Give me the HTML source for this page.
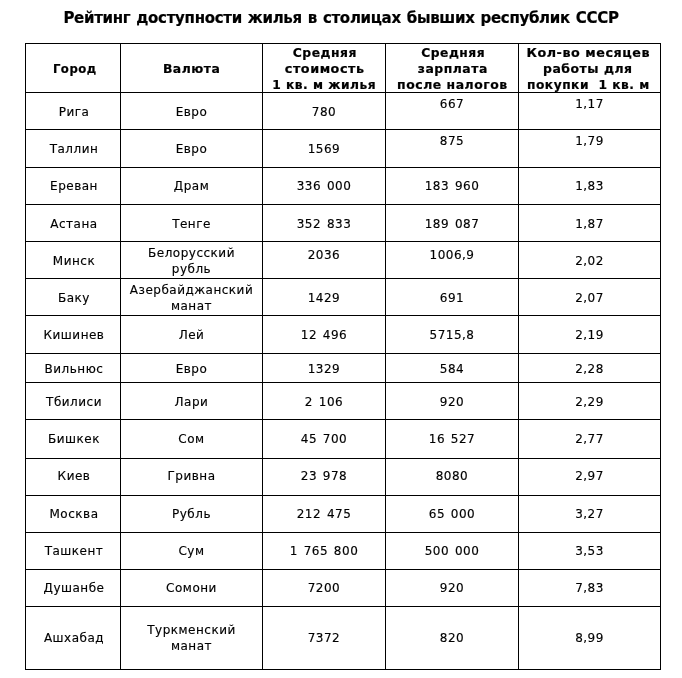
<!DOCTYPE html>
<html lang="ru"><head><meta charset="utf-8"><title>Рейтинг доступности жилья</title>
<style>
html,body{margin:0;padding:0;background:#fff;}
body{width:682px;height:678px;position:relative;overflow:hidden;font-family:"DejaVu Sans","Liberation Sans",sans-serif;color:#000;}
.t{position:absolute;left:0;top:9px;width:682px;text-align:center;font-weight:bold;font-size:15px;line-height:18px;white-space:pre;letter-spacing:-0.3px;word-spacing:1px;-webkit-text-stroke:0.2px #000;}
.h{position:absolute;height:1px;background:#000;}
.v{position:absolute;width:1px;background:#000;}
.c{position:absolute;display:flex;align-items:center;justify-content:center;text-align:center;font-size:12px;line-height:16px;white-space:nowrap;letter-spacing:0.5px;word-spacing:1.5px;padding-top:2px;box-sizing:border-box;-webkit-text-stroke:0.15px #000;}
.b{font-weight:bold;-webkit-text-stroke:0.2px #000;word-spacing:0;}
.hl{display:block;}
</style></head><body>
<div class="t">Рейтинг доступности жилья в столицах бывших республик СССР</div>

<div class="h" style="left:25px;top:43px;width:636px"></div>
<div class="h" style="left:25px;top:92px;width:636px"></div>
<div class="h" style="left:25px;top:129px;width:636px"></div>
<div class="h" style="left:25px;top:167px;width:636px"></div>
<div class="h" style="left:25px;top:204px;width:636px"></div>
<div class="h" style="left:25px;top:241px;width:636px"></div>
<div class="h" style="left:25px;top:278px;width:636px"></div>
<div class="h" style="left:25px;top:315px;width:636px"></div>
<div class="h" style="left:25px;top:353px;width:636px"></div>
<div class="h" style="left:25px;top:382px;width:636px"></div>
<div class="h" style="left:25px;top:419px;width:636px"></div>
<div class="h" style="left:25px;top:458px;width:636px"></div>
<div class="h" style="left:25px;top:495px;width:636px"></div>
<div class="h" style="left:25px;top:532px;width:636px"></div>
<div class="h" style="left:25px;top:569px;width:636px"></div>
<div class="h" style="left:25px;top:606px;width:636px"></div>
<div class="h" style="left:25px;top:669px;width:636px"></div>
<div class="v" style="left:25px;top:43px;height:627px"></div>
<div class="v" style="left:120px;top:43px;height:627px"></div>
<div class="v" style="left:262px;top:43px;height:627px"></div>
<div class="v" style="left:385px;top:43px;height:627px"></div>
<div class="v" style="left:518px;top:43px;height:627px"></div>
<div class="v" style="left:660px;top:43px;height:627px"></div>
<div class="c b" style="left:26px;top:44px;width:94px;height:48px;padding-left:2px"><div><span class="hl" id="h0_0" style="transform:translateX(0.35px) scaleX(0.9750)">Город</span></div></div>
<div class="c b" style="left:121px;top:44px;width:141px;height:48px"><div><span class="hl" id="h1_0" style="transform:translateX(-0.23px) scaleX(1.0315)">Валюта</span></div></div>
<div class="c b" style="left:263px;top:44px;width:122px;height:48px"><div><span class="hl" id="h2_0" style="transform:translateX(0.91px) scaleX(1.0295)">Средняя</span><span class="hl" id="h2_1" style="transform:translateX(0.73px) scaleX(1.0630)">стоимость</span><span class="hl" id="h2_2" style="transform:translateX(0.25px) scaleX(1.0210)">1 кв. м жилья</span></div></div>
<div class="c b" style="left:386px;top:44px;width:132px;height:48px"><div><span class="hl" id="h3_0" style="transform:translateX(0.81px) scaleX(1.0230)">Средняя</span><span class="hl" id="h3_1" style="transform:translateX(0.32px) scaleX(1.0328)">зарплата</span><span class="hl" id="h3_2" style="transform:translateX(-0.00px) scaleX(1.0358)">после налогов</span></div></div>
<div class="c b" style="left:519px;top:44px;width:141px;height:48px"><div><span class="hl" id="h4_0" style="transform:translateX(-1.00px) scaleX(1.0626)">Кол-во месяцев</span><span class="hl" id="h4_1" style="transform:translateX(-1.45px) scaleX(1.0365)">работы для</span><span class="hl" id="h4_2" style="transform:translateX(-0.90px) scaleX(1.0185)">покупки&nbsp; 1 кв. м</span></div></div>
<div class="c" style="left:26px;top:93px;width:94px;height:36px;padding-left:2px"><span>Рига</span></div>
<div class="c" style="left:121px;top:93px;width:141px;height:36px"><span>Евро</span></div>
<div class="c" style="left:263px;top:93px;width:122px;height:36px"><span>780</span></div>
<div class="c" style="left:386px;top:93px;width:132px;height:36px"><span style="position:relative;top:-8px">667</span></div>
<div class="c" style="left:519px;top:93px;width:141px;height:36px"><span style="position:relative;top:-8px">1,17</span></div>
<div class="c" style="left:26px;top:130px;width:94px;height:37px;padding-left:2px"><span style="position:relative;top:-1px">Таллин</span></div>
<div class="c" style="left:121px;top:130px;width:141px;height:37px"><span style="position:relative;top:-1px">Евро</span></div>
<div class="c" style="left:263px;top:130px;width:122px;height:37px"><span style="position:relative;top:-1px">1569</span></div>
<div class="c" style="left:386px;top:130px;width:132px;height:37px"><span style="position:relative;top:-9px">875</span></div>
<div class="c" style="left:519px;top:130px;width:141px;height:37px"><span style="position:relative;top:-9px">1,79</span></div>
<div class="c" style="left:26px;top:168px;width:94px;height:36px;padding-left:2px"><span style="position:relative;top:-1px">Ереван</span></div>
<div class="c" style="left:121px;top:168px;width:141px;height:36px"><span style="position:relative;top:-1px">Драм</span></div>
<div class="c" style="left:263px;top:168px;width:122px;height:36px"><span style="position:relative;top:-1px">336 000</span></div>
<div class="c" style="left:386px;top:168px;width:132px;height:36px"><span style="position:relative;top:-1px">183 960</span></div>
<div class="c" style="left:519px;top:168px;width:141px;height:36px"><span style="position:relative;top:-1px">1,83</span></div>
<div class="c" style="left:26px;top:205px;width:94px;height:36px;padding-left:2px"><span>Астана</span></div>
<div class="c" style="left:121px;top:205px;width:141px;height:36px"><span>Тенге</span></div>
<div class="c" style="left:263px;top:205px;width:122px;height:36px"><span>352 833</span></div>
<div class="c" style="left:386px;top:205px;width:132px;height:36px"><span>189 087</span></div>
<div class="c" style="left:519px;top:205px;width:141px;height:36px"><span>1,87</span></div>
<div class="c" style="left:26px;top:242px;width:94px;height:36px;padding-left:2px"><span>Минск</span></div>
<div class="c" style="left:121px;top:242px;width:141px;height:36px"><span>Белорусский<br>рубль</span></div>
<div class="c" style="left:263px;top:242px;width:122px;height:36px"><span style="position:relative;top:-6px">2036</span></div>
<div class="c" style="left:386px;top:242px;width:132px;height:36px"><span style="position:relative;top:-6px">1006,9</span></div>
<div class="c" style="left:519px;top:242px;width:141px;height:36px"><span>2,02</span></div>
<div class="c" style="left:26px;top:279px;width:94px;height:36px;padding-left:2px"><span>Баку</span></div>
<div class="c" style="left:121px;top:279px;width:141px;height:36px"><span>Азербайджанский<br>манат</span></div>
<div class="c" style="left:263px;top:279px;width:122px;height:36px"><span>1429</span></div>
<div class="c" style="left:386px;top:279px;width:132px;height:36px"><span>691</span></div>
<div class="c" style="left:519px;top:279px;width:141px;height:36px"><span>2,07</span></div>
<div class="c" style="left:26px;top:316px;width:94px;height:37px;padding-left:2px"><span style="position:relative;top:-1px">Кишинев</span></div>
<div class="c" style="left:121px;top:316px;width:141px;height:37px"><span style="position:relative;top:-1px">Лей</span></div>
<div class="c" style="left:263px;top:316px;width:122px;height:37px"><span style="position:relative;top:-1px">12 496</span></div>
<div class="c" style="left:386px;top:316px;width:132px;height:37px"><span style="position:relative;top:-1px">5715,8</span></div>
<div class="c" style="left:519px;top:316px;width:141px;height:37px"><span style="position:relative;top:-1px">2,19</span></div>
<div class="c" style="left:26px;top:354px;width:94px;height:28px;padding-left:2px"><span>Вильнюс</span></div>
<div class="c" style="left:121px;top:354px;width:141px;height:28px"><span>Евро</span></div>
<div class="c" style="left:263px;top:354px;width:122px;height:28px"><span>1329</span></div>
<div class="c" style="left:386px;top:354px;width:132px;height:28px"><span>584</span></div>
<div class="c" style="left:519px;top:354px;width:141px;height:28px"><span>2,28</span></div>
<div class="c" style="left:26px;top:383px;width:94px;height:36px;padding-left:2px"><span>Тбилиси</span></div>
<div class="c" style="left:121px;top:383px;width:141px;height:36px"><span>Лари</span></div>
<div class="c" style="left:263px;top:383px;width:122px;height:36px"><span>2 106</span></div>
<div class="c" style="left:386px;top:383px;width:132px;height:36px"><span>920</span></div>
<div class="c" style="left:519px;top:383px;width:141px;height:36px"><span>2,29</span></div>
<div class="c" style="left:26px;top:420px;width:94px;height:38px;padding-left:2px"><span style="position:relative;top:-1px">Бишкек</span></div>
<div class="c" style="left:121px;top:420px;width:141px;height:38px"><span style="position:relative;top:-1px">Сом</span></div>
<div class="c" style="left:263px;top:420px;width:122px;height:38px"><span style="position:relative;top:-1px">45 700</span></div>
<div class="c" style="left:386px;top:420px;width:132px;height:38px"><span style="position:relative;top:-1px">16 527</span></div>
<div class="c" style="left:519px;top:420px;width:141px;height:38px"><span style="position:relative;top:-1px">2,77</span></div>
<div class="c" style="left:26px;top:459px;width:94px;height:36px;padding-left:2px"><span style="position:relative;top:-2px">Киев</span></div>
<div class="c" style="left:121px;top:459px;width:141px;height:36px"><span style="position:relative;top:-2px">Гривна</span></div>
<div class="c" style="left:263px;top:459px;width:122px;height:36px"><span style="position:relative;top:-2px">23 978</span></div>
<div class="c" style="left:386px;top:459px;width:132px;height:36px"><span style="position:relative;top:-2px">8080</span></div>
<div class="c" style="left:519px;top:459px;width:141px;height:36px"><span style="position:relative;top:-2px">2,97</span></div>
<div class="c" style="left:26px;top:496px;width:94px;height:36px;padding-left:2px"><span style="position:relative;top:-1px">Москва</span></div>
<div class="c" style="left:121px;top:496px;width:141px;height:36px"><span style="position:relative;top:-1px">Рубль</span></div>
<div class="c" style="left:263px;top:496px;width:122px;height:36px"><span style="position:relative;top:-1px">212 475</span></div>
<div class="c" style="left:386px;top:496px;width:132px;height:36px"><span style="position:relative;top:-1px">65 000</span></div>
<div class="c" style="left:519px;top:496px;width:141px;height:36px"><span style="position:relative;top:-1px">3,27</span></div>
<div class="c" style="left:26px;top:533px;width:94px;height:36px;padding-left:2px"><span style="position:relative;top:-1px">Ташкент</span></div>
<div class="c" style="left:121px;top:533px;width:141px;height:36px"><span style="position:relative;top:-1px">Сум</span></div>
<div class="c" style="left:263px;top:533px;width:122px;height:36px"><span style="position:relative;top:-1px">1 765 800</span></div>
<div class="c" style="left:386px;top:533px;width:132px;height:36px"><span style="position:relative;top:-1px">500 000</span></div>
<div class="c" style="left:519px;top:533px;width:141px;height:36px"><span style="position:relative;top:-1px">3,53</span></div>
<div class="c" style="left:26px;top:570px;width:94px;height:36px;padding-left:2px"><span style="position:relative;top:-1px">Душанбе</span></div>
<div class="c" style="left:121px;top:570px;width:141px;height:36px"><span style="position:relative;top:-1px">Сомони</span></div>
<div class="c" style="left:263px;top:570px;width:122px;height:36px"><span style="position:relative;top:-1px">7200</span></div>
<div class="c" style="left:386px;top:570px;width:132px;height:36px"><span style="position:relative;top:-1px">920</span></div>
<div class="c" style="left:519px;top:570px;width:141px;height:36px"><span style="position:relative;top:-1px">7,83</span></div>
<div class="c" style="left:26px;top:607px;width:94px;height:62px;padding-left:2px"><span style="position:relative;top:-1px">Ашхабад</span></div>
<div class="c" style="left:121px;top:607px;width:141px;height:62px"><span style="position:relative;top:-1px">Туркменский<br>манат</span></div>
<div class="c" style="left:263px;top:607px;width:122px;height:62px"><span style="position:relative;top:-1px">7372</span></div>
<div class="c" style="left:386px;top:607px;width:132px;height:62px"><span style="position:relative;top:-1px">820</span></div>
<div class="c" style="left:519px;top:607px;width:141px;height:62px"><span style="position:relative;top:-1px">8,99</span></div>
</body></html>
